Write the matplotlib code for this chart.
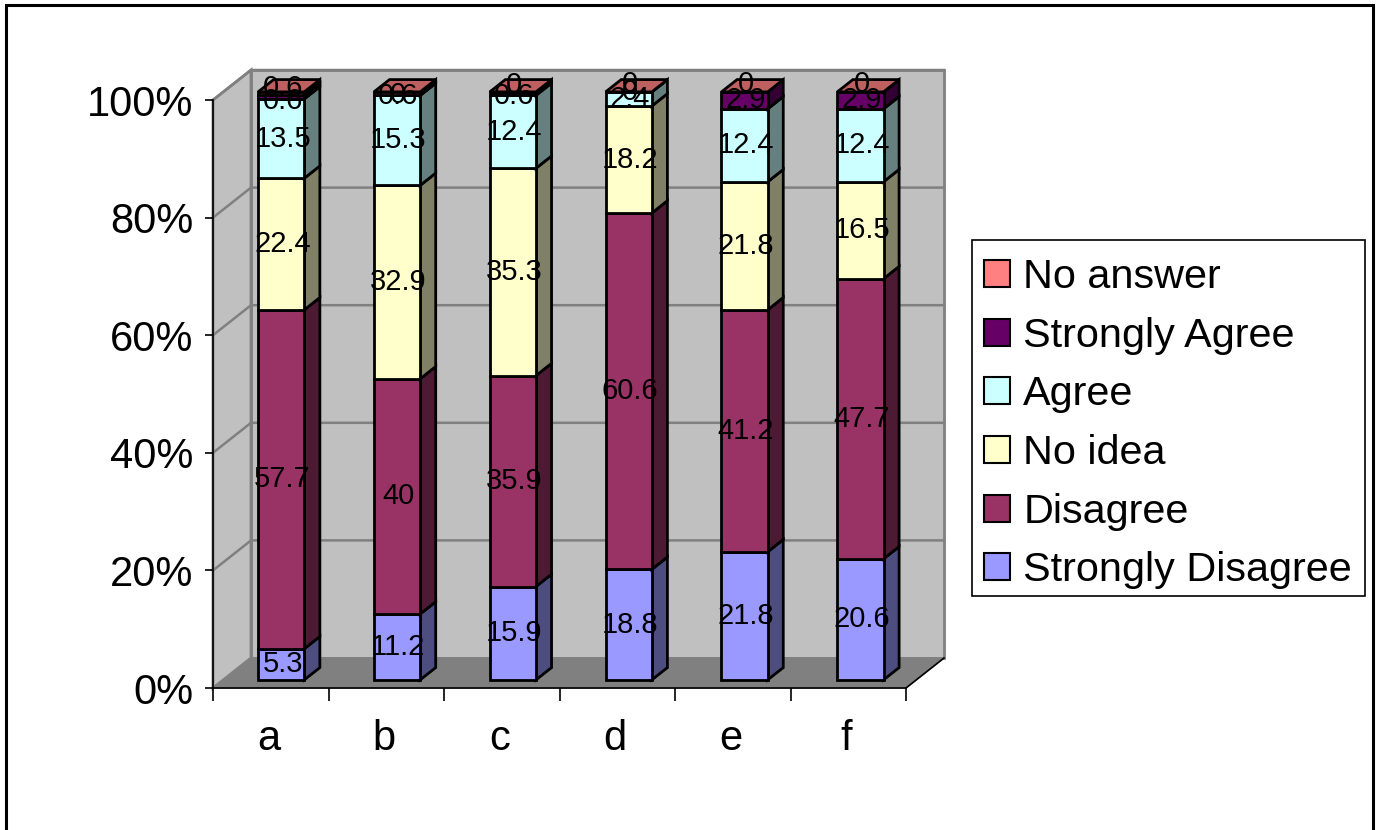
# -*- coding: utf-8 -*-
import matplotlib
matplotlib.use('Agg')
import matplotlib.pyplot as plt
import numpy as np
from matplotlib.patches import Patch, Polygon, Rectangle

plt.rcParams['font.family'] = ['Liberation Sans', 'DejaVu Sans']

categories = ['a', 'b', 'c', 'd', 'e', 'f']
series_names = ['Strongly Disagree', 'Disagree', 'No idea', 'Agree', 'Strongly Agree', 'No answer']
strongly_disagree = [5.3, 11.2, 15.9, 18.8, 21.8, 20.6]
disagree = [57.7, 40, 35.9, 60.6, 41.2, 47.7]
no_idea = [22.4, 32.9, 35.3, 18.2, 21.8, 16.5]
agree = [13.5, 15.3, 12.4, 2.4, 12.4, 12.4]
strongly_agree = [0.6, 0, 0.6, 0, 2.9, 2.9]
no_answer = [0.6, 0.6, 0, 0, 0, 0]
colors = ['#9999FF', '#993366', '#FFFFCC', '#CCFFFF', '#660066', '#FF8080']

values = np.array([strongly_disagree, disagree, no_idea, agree, strongly_agree, no_answer], dtype=float)
shares = values / values.sum(axis=0) * 100

W, H = 1378, 830
fig = plt.figure(figsize=(W / 100, H / 100), dpi=100, facecolor='white')
# front plane of the fake 3d box
ax = fig.add_axes([213 / W, 1 - 688 / H, (906 - 213) / W, (688 - 100) / H])
ax.set_xlim(0, 6)
ax.set_ylim(0, 100)
ax.patch.set_visible(False)

# depth of the box in data units
depth_x = 38 / 115.5
depth_y = 30 / 5.88


def shear(x, y, d):
    return (x + d * depth_x, y + d * depth_y)


def face(pts, color, ec='black', lw=2, z=1):
    ax.add_patch(Polygon(pts, closed=True, fc=color, ec=ec, lw=lw, clip_on=False, zorder=z, joinstyle='miter'))


def shade(c, f):
    rgb = np.array(matplotlib.colors.to_rgb(c))
    return tuple(rgb * f)


# walls
wall = '#C0C0C0'
grid = '#808080'
face([shear(0, 0, 1), shear(6, 0, 1), shear(6, 100, 1), shear(0, 100, 1)], wall, grid, 2, 0.5)
face([shear(0, 0, 0), shear(0, 0, 1), shear(0, 100, 1), shear(0, 100, 0)], wall, grid, 2, 0.5)
face([shear(0, 0, 0), shear(6, 0, 0), shear(6, 0, 1), shear(0, 0, 1)], '#808080', '#808080', 1, 0.6)
for level in range(20, 101, 20):
    pts = [shear(0, level, 0), shear(0, level, 1), shear(6, level, 1)]
    ax.plot([p[0] for p in pts], [p[1] for p in pts], color=grid, lw=1.8, clip_on=False, zorder=0.7)
# right edge of the floor
pts = [shear(6, 0, 0), shear(6, 0, 1)]
ax.plot([p[0] for p in pts], [p[1] for p in pts], color='black', lw=1.2, clip_on=False, zorder=0.8)

# bars, sit in the middle of the depth
bar_w = 0.4
slot = 1.003
d0, d1 = 0.27, 0.68
for i in range(len(categories)):
    xc = (i + 0.5) * slot
    x0, x1 = xc - bar_w / 2, xc + bar_w / 2
    bottom = 0.0
    for s in range(len(series_names)):
        top = bottom + shares[s, i]
        c = colors[s]
        face([shear(x1, bottom, d0), shear(x1, bottom, d1), shear(x1, top, d1), shear(x1, top, d0)], shade(c, 0.5), z=2)
        face([shear(x0, bottom, d0), shear(x1, bottom, d0), shear(x1, top, d0), shear(x0, top, d0)], c, z=2)
        bottom = top
    top_c = colors[-1]
    face([shear(x0, bottom, d0), shear(x1, bottom, d0), shear(x1, bottom, d1), shear(x0, bottom, d1)], shade(top_c, 0.75), z=2)

# data labels, the thin top ones get nudged (points) like the original
nudge_answer = [4, -2, 5, 6, 6, 6]
nudge_sagree = [-3, 0, -2, 0, 0, 0]
for i in range(len(categories)):
    bottom = 0.0
    for s in range(len(series_names)):
        top = bottom + shares[s, i]
        px, py = shear((i + 0.5) * slot, (bottom + top) / 2, d0)
        off = 0
        if s == 5:
            off = nudge_answer[i]
        elif s == 4:
            off = nudge_sagree[i]
        ax.annotate('%g' % values[s, i], (px, py), xytext=(1, off), textcoords='offset points',
                    ha='center', va='center', fontsize=21, color='black', zorder=5, annotation_clip=False)
        bottom = top

# axes
for side in ['top', 'right']:
    ax.spines[side].set_visible(False)
for side in ['left', 'bottom']:
    ax.spines[side].set_linewidth(1.2)
    ax.spines[side].set_color('black')
ax.set_yticks(range(0, 101, 20))
ax.set_yticklabels(['%d%%' % v for v in range(0, 101, 20)])
ax.tick_params(axis='y', length=6, width=1.2, pad=8, labelsize=30)
ax.set_xticks(range(7))
ax.set_xticklabels([])
ax.tick_params(axis='x', which='major', length=9, width=1.2)
ax.set_xticks(np.arange(6) + 0.48, minor=True)
ax.set_xticklabels(categories, minor=True)
ax.tick_params(axis='x', which='minor', length=0, pad=22, labelsize=30)

# legend, box drawn apart so the rows can sit a bit lower in it
fig.add_artist(Rectangle((972 / W, 1 - 596 / H), (1365 - 972) / W, (596 - 240) / H, transform=fig.transFigure,
                         fc='white', ec='black', lw=1.2, zorder=3))
handles = [Patch(fc=colors[s], ec='black', lw=1.5, label=series_names[s]) for s in range(5, -1, -1)]
leg = fig.legend(handles=handles, loc='upper left', bbox_to_anchor=(972 / W, 1 - 246 / H),
                 bbox_transform=fig.transFigure, fontsize=29.8, handlelength=0.62, handleheight=0.62,
                 handletextpad=0.33, labelspacing=0.5, borderpad=0.29, borderaxespad=0, frameon=False)
leg.set_zorder(4)

# outer frame, no bottom line in the original
fig.add_artist(Rectangle((6 / W, -0.05), (1373 - 6) / W, 1.05 - 5 / H, transform=fig.transFigure, fill=False, ec='black', lw=2.2))

fig.savefig('out.png', dpi=100)
